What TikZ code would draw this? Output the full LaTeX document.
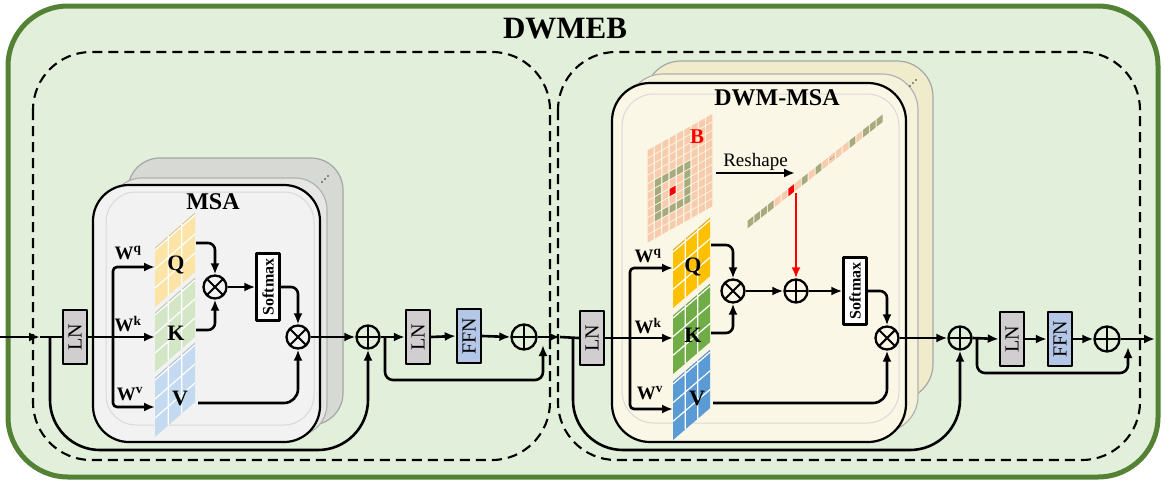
\documentclass[tikz,border=0pt]{standalone}
\usepackage{fontspec}
\setmainfont{Liberation Serif}
\usetikzlibrary{arrows.meta}
\definecolor{bggreen}{HTML}{E2EFDA}
\definecolor{bordgreen}{HTML}{548235}
\definecolor{msafront}{HTML}{F2F2F2}
\definecolor{msamid}{HTML}{E6E7E5}
\definecolor{msaback}{HTML}{D6D9D4}
\definecolor{dwmfront}{HTML}{FAF7E7}
\definecolor{dwmmid}{HTML}{F5F2DC}
\definecolor{dwmback}{HTML}{EFEBCB}
\definecolor{lngray}{HTML}{D0CECE}
\definecolor{ffnblue}{HTML}{B4C7E7}
\definecolor{qlight}{HTML}{FCE4A6}
\definecolor{klight}{HTML}{D3E6C6}
\definecolor{vlight}{HTML}{C4DAF0}
\definecolor{qdark}{HTML}{FFC000}
\definecolor{kdark}{HTML}{70AD47}
\definecolor{vdark}{HTML}{5B9BD5}
\definecolor{pinkB}{HTML}{F8CBAD}
\definecolor{bolive}{HTML}{A6AA7C}
\newcommand{\fsz}[1]{\fontsize{#1}{#1}\selectfont}
\newcommand{\qkvpanel}[6]{%
  \begin{scope}[shift={(#1,#2)}, yslant=#5]
    \fill[#6] (0,0) rectangle (#3,#4);
    \fill[#6!75!gray] (0,-2.5) rectangle (#3,0);
    \draw[white, line width=1.2pt] ({#3/3},-2.5) -- ({#3/3},#4) ({2*#3/3},-2.5) -- ({2*#3/3},#4)
      (0,{#4/3}) -- (#3,{#4/3}) (0,{2*#4/3}) -- (#3,{2*#4/3}) (0,0) -- (#3,0);
  \end{scope}}
\begin{document}
\begin{tikzpicture}[x=1pt,y=-1pt, line join=round,
  ln/.style={line width=2.6pt},
  arr/.style={line width=2.6pt, -{Latex[length=11pt,width=9pt]}},
  opbase/.style={circle, draw, line width=2.3pt, minimum size=23pt, inner sep=0pt},
  otimes/.style={opbase, path picture={
     \draw[line width=2.1pt] (path picture bounding box.north west) -- (path picture bounding box.south east);
     \draw[line width=2.1pt] (path picture bounding box.north east) -- (path picture bounding box.south west);}},
  oplus/.style={opbase, path picture={
     \draw[line width=2.1pt] (path picture bounding box.north) -- (path picture bounding box.south);
     \draw[line width=2.1pt] (path picture bounding box.west) -- (path picture bounding box.east);}},
  lnbox/.style={draw, line width=2.4pt, fill=lngray, minimum width=24pt, minimum height=54pt, inner sep=0pt, font=\fsz{20}},
  ffnbox/.style={lnbox, fill=ffnblue},
  smbox/.style={draw, line width=2.4pt, fill=white, minimum width=23pt, minimum height=67pt, inner sep=0pt, font=\fsz{16}\bfseries},
  dashbox/.style={draw, line width=2.1pt, dash pattern=on 10pt off 6pt, rounded corners=58},
  lab/.style={font=\fsz{22}\bfseries, inner sep=0pt},
  wlab/.style={font=\fsz{19}\bfseries, inner sep=0pt},
  title/.style={font=\fsz{24}\bfseries, inner sep=0pt}
]
\useasboundingbox (0,0) rectangle (1165,485);
% outer block
\draw[bordgreen, line width=5pt, fill=bggreen, rounded corners=60] (8,6) rectangle (1158,477);
\node[font=\fsz{31}\bfseries, inner sep=0pt] (dwmeb) at (565,29) {DWMEB};
% dashed blocks
\draw[dashbox] (33,52) rectangle (550,460);
\draw[dashbox] (558,52) rectangle (1140,460);

% ===== MSA stack =====
\draw[gray!70, line width=1.2pt, fill=msaback, rounded corners=32] (128,158) rectangle (343,425);
\draw[gray!60, line width=1.2pt, fill=msamid, rounded corners=32] (110,178) rectangle (327,436);
\draw[line width=2.2pt, fill=msafront, rounded corners=36] (93,185) rectangle (320,442);
\draw[gray!30, line width=1pt, rounded corners=30] (106,192) rectangle (314,425);
\foreach \t in {0,1,2} \fill[gray!40!black] ({322+\t*3},{182-\t*3}) circle (0.9pt);
\node[title] (msa) at (213,202) {MSA};

% ===== DWM-MSA stack =====
\draw[gray!70, line width=1.2pt, fill=dwmback, rounded corners=36] (645,61) rectangle (933,400);
\draw[gray!60, line width=1.2pt, fill=dwmmid, rounded corners=36] (627,74) rectangle (918,432);
\draw[line width=2.2pt, fill=dwmfront, rounded corners=38] (612,83) rectangle (906,442);
\draw[gray!30, line width=1pt, rounded corners=32] (622,94) rectangle (899,423);
\foreach \t in {0,1,2} \fill[gray!40!black] ({910+\t*3},{86-\t*3}) circle (0.9pt);
\node[title] (dwmmsa) at (777,98) {DWM-MSA};

% B matrix
\begin{scope}[shift={(647,150)}, yslant=0.56]
\foreach \i in {0,...,8}{
  \foreach \j in {0,...,10}{
    \pgfmathtruncatemacro{\di}{abs(\i-3)}
    \pgfmathtruncatemacro{\dj}{abs(\j-6)}
    \pgfmathtruncatemacro{\dd}{max(\di,\dj)}
    \ifnum\dd=0 \def\cc{red}\else\ifnum\dd=2 \def\cc{bolive}\else\def\cc{pinkB}\fi\fi
    \fill[\cc] ({\i*7.33+0.6},{\j*8.5+0.6}) rectangle ({(\i+1)*7.33-0.6},{(\j+1)*8.5-0.6});
  }}
\end{scope}
\node[font=\fsz{21}\bfseries, text=red, inner sep=0pt] (blab) at (697,137) {B};
% reshaped strip
\begin{scope}[shift={(747,225)}, yslant=0.787]
\foreach \c [count=\k from 0] in {bolive,bolive,bolive,bolive,pinkB,pinkB,red,pinkB,bolive,pinkB,bolive,pinkB,pinkB,pinkB,pinkB,bolive,pinkB,bolive,bolive,bolive}{
  \fill[\c] ({\k*6.8+0.5},-3.8) rectangle ({(\k+1)*6.8-0.5},3.8);
}
\foreach \t in {0,1,2} \fill[black!70] ({12*6.8+2+\t*1.4},0) circle (0.45pt);
\end{scope}
\coordinate (rsa) at (716,173);
\coordinate (rsb) at (795,173);
\draw[arr, line width=2.3pt] (rsa) -- node[above=1pt, font=\fsz{19}, inner sep=0pt] {Reshape} (rsb);

% Q K V panels
\qkvpanel{155}{250}{40}{57}{0.875}{qlight}
\qkvpanel{155}{315}{40}{57}{0.875}{klight}
\qkvpanel{155}{380}{40}{57}{0.875}{vlight}
\qkvpanel{673}{252}{37}{56}{0.86}{qdark}
\qkvpanel{673}{318}{37}{56}{0.86}{kdark}
\qkvpanel{673}{384}{37}{56}{0.86}{vdark}
\node[lab] (q1) at (176,265) {Q};
\node[lab] (k1) at (176,333) {K};
\node[lab] (v1) at (180,398) {V};
\node[lab] (q2) at (693,267) {Q};
\node[lab] (k2) at (693,335) {K};
\node[lab] (v2) at (697,398) {V};
\node[wlab] (wq1) at (128,253) {W\textsuperscript{q}};
\node[wlab] (wk1) at (128,324) {W\textsuperscript{k}};
\node[wlab] (wv1) at (130,394) {W\textsuperscript{v}};
\node[wlab] (wq2) at (648,256) {W\textsuperscript{q}};
\node[wlab] (wk2) at (648,326) {W\textsuperscript{k}};
\node[wlab] (wv2) at (650,393) {W\textsuperscript{v}};

% ===== nodes =====
\node[lnbox] (ln1) at (75,337) {\rotatebox{90}{LN}};
\node[otimes] (mul1) at (215,287) {};
\node[smbox] (sm1) at (268,287) {\rotatebox{90}{Softmax}};
\node[otimes] (mul2) at (298,337) {};
\node[oplus] (add1) at (368,337) {};
\node[lnbox] (ln2) at (418,337) {\rotatebox{90}{LN}};
\node[ffnbox] (ffn1) at (469,336) {\rotatebox{90}{FFN}};
\node[oplus, minimum size=25pt] (add2) at (524,337) {};
\node[lnbox] (ln3) at (592,338) {\rotatebox{90}{LN}};
\node[otimes] (mul3) at (733,291) {};
\node[oplus] (add3) at (796,291) {};
\node[smbox] (sm2) at (855,291) {\rotatebox{90}{Softmax}};
\node[otimes] (mul4) at (887,338) {};
\node[oplus] (add4) at (960,338) {};
\node[lnbox] (ln4) at (1012,339) {\rotatebox{90}{LN}};
\node[ffnbox] (ffn2) at (1060,339) {\rotatebox{90}{FFN}};
\node[oplus, minimum size=25pt] (add5) at (1107,339) {};

% ===== coordinates =====
\coordinate (in) at (0,337);
\coordinate (inA) at (40,337);
\coordinate (sk1) at (50,337);
\coordinate (skb1) at (50,450);
\coordinate (skc1) at (368,450);
\coordinate (b1) at (113,337);
\coordinate (qin1) at (155,267);
\coordinate (kin1) at (155,337);
\coordinate (vin1) at (155,407);
\coordinate (qout1) at (196,243);
\coordinate (kout1) at (196,330);
\coordinate (vout1) at (198,403);
\coordinate (sk2) at (385,337);
\coordinate (skb2) at (385,380);
\coordinate (skc2) at (543,380);
\coordinate (skd2) at (543,345);
\coordinate (jn1) at (560,337);
\coordinate (sk3) at (573,338);
\coordinate (skb3) at (573,450);
\coordinate (skc3) at (960,450);
\coordinate (b2) at (630,338);
\coordinate (qin2) at (673,268);
\coordinate (kin2) at (673,338);
\coordinate (vin2) at (673,409);
\coordinate (qout2) at (711,245);
\coordinate (kout2) at (711,333);
\coordinate (vout2) at (713,403);
\coordinate (rs) at (796,193);
\coordinate (sk4) at (977,339);
\coordinate (skb4) at (977,373);
\coordinate (skc4) at (1128,373);
\coordinate (skd4) at (1128,347);
\coordinate (out) at (1155,339);

% ===== connectors: left block =====
\draw[arr] (in) -- (inA);
\draw[ln] (inA) -- (ln1.west);
\draw[arr, rounded corners=50] (sk1) -- (skb1) -- (skc1) -- (add1.south);
\draw[ln] (ln1.east) -- (b1);
\draw[arr, rounded corners=4] (b1) |- (qin1);
\draw[arr] (b1) -- (kin1);
\draw[arr, rounded corners=4] (b1) |- (vin1);
\draw[arr, rounded corners=7] (qout1) -| (mul1.north);
\draw[arr, rounded corners=7] (kout1) -| (mul1.south);
\draw[arr] (mul1.east) -- (sm1.west);
\draw[arr, rounded corners=7] (sm1.east) -| (mul2.north);
\draw[arr, rounded corners=14] (vout1) -| (mul2.south);
\draw[arr] (mul2.east) -- (add1.west);
\draw[arr] (add1.east) -- (ln2.west);
\draw[arr, rounded corners=8] (sk2) -- (skb2) -- (skc2) -- (skd2);
\draw[arr] (ln2.east) -- (ffn1.west);
\draw[arr] (ffn1.east) -- (add2.west);
\draw[arr] (add2.east) -- (jn1);
\draw[ln] (jn1) -- (ln3.west);

% ===== connectors: right block =====
\draw[arr, rounded corners=50] (sk3) -- (skb3) -- (skc3) -- (add4.south);
\draw[ln] (ln3.east) -- (b2);
\draw[arr, rounded corners=4] (b2) |- (qin2);
\draw[arr] (b2) -- (kin2);
\draw[arr, rounded corners=4] (b2) |- (vin2);
\draw[arr, rounded corners=7] (qout2) -| (mul3.north);
\draw[arr, rounded corners=7] (kout2) -| (mul3.south);
\draw[arr] (mul3.east) -- (add3.west);
\draw[arr, red] (rs) -- (add3.north);
\draw[arr] (add3.east) -- (sm2.west);
\draw[arr, rounded corners=7] (sm2.east) -| (mul4.north);
\draw[arr, rounded corners=14] (vout2) -| (mul4.south);
\draw[arr] (mul4.east) -- (add4.west);
\draw[arr] (add4.east) -- (ln4.west);
\draw[arr, rounded corners=8] (sk4) -- (skb4) -- (skc4) -- (skd4);
\draw[arr] (ln4.east) -- (ffn2.west);
\draw[arr] (ffn2.east) -- (add5.west);
\draw[arr] (add5.east) -- (out);
\end{tikzpicture}
\end{document}
